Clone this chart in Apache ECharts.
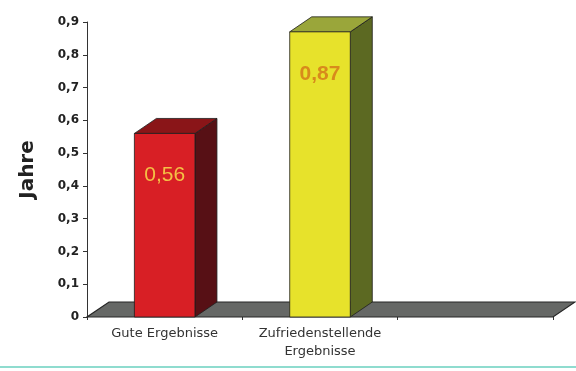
<!DOCTYPE html>
<html>
<head>
<meta charset="utf-8">
<script src="https://cdn.jsdelivr.net/npm/echarts@6/dist/echarts.min.js"></script>
<style>
  html, body { margin: 0; padding: 0; background: #fff; }
  #chart { width: 576px; height: 371px; }
  #rule { position: absolute; left: 0; top: 366px; width: 576px; height: 2px; background: #8fdccf; }
</style>
</head>
<body>
<div id="chart"></div>
<div id="rule"></div>
<script>
const categories = ['Gute Ergebnisse', 'Zufriedenstellende\nErgebnisse', '']
const values = [0.56, 0.87]
const valueLabels = ['0,56', '0,87']
const yMax = 0.9
const yStep = 0.1

// front / side / top colours and label colour per bar
const faces = [
  { front: '#d81f25', side: '#571015', top: '#8a1518', label: '#f4c045' },
  { front: '#e7e22b', side: '#5c6922', top: '#9aa63a', label: '#d88a1c' }
]
const depthX = 22
const depthY = -15

const chart = echarts.init(document.getElementById('chart'))

function renderFloor(params, api) {
  const cs = params.coordSys
  const y0 = api.coord([0, 0])[1]
  const x0 = cs.x
  const x1 = cs.x + cs.width
  return {
    type: 'polygon',
    shape: { points: [[x0, y0], [x1, y0], [x1 + depthX, y0 + depthY], [x0 + depthX, y0 + depthY]] },
    style: { fill: '#666866', stroke: '#262626', lineWidth: 1.2 }
  }
}

function renderBar(params, api) {
  const idx = params.dataIndex
  const top = api.coord([api.value(0), api.value(1)])
  const base = api.coord([api.value(0), 0])
  const band = api.size([1, 0])[0]
  const w = band * 0.39
  const xl = top[0] - w / 2
  const xr = top[0] + w / 2
  const yt = top[1]
  const yb = base[1]
  const c = faces[idx]
  const edge = { stroke: '#1e1e1e', lineWidth: 0.8 }
  return {
    type: 'group',
    children: [
      {
        type: 'polygon',
        shape: { points: [[xr, yb], [xr + depthX, yb + depthY], [xr + depthX, yt + depthY], [xr, yt]] },
        style: Object.assign({ fill: c.side }, edge)
      },
      {
        type: 'polygon',
        shape: { points: [[xl, yt], [xr, yt], [xr + depthX, yt + depthY], [xl + depthX, yt + depthY]] },
        style: Object.assign({ fill: c.top }, edge)
      },
      {
        type: 'rect',
        shape: { x: xl, y: yt, width: w, height: yb - yt },
        style: Object.assign({ fill: c.front }, edge)
      },
      {
        type: 'text',
        x: top[0],
        y: yt + 42,
        style: {
          text: valueLabels[idx],
          fill: c.label,
          font: (idx === 1 ? 'bold ' : '') + '21px "Liberation Sans", Arial, sans-serif',
          align: 'center',
          verticalAlign: 'middle'
        }
      }
    ]
  }
}

chart.setOption({
  animation: false,
  backgroundColor: '#fff',
  grid: { left: 87, right: 23, top: 22, bottom: 54 },
  xAxis: {
    type: 'category',
    data: categories,
    axisLine: { show: false },
    axisTick: { show: true, interval: 0, length: 3, lineStyle: { color: '#333' } },
    axisLabel: {
      interval: 0,
      margin: 8,
      color: '#333',
      fontSize: 13,
      fontFamily: 'DejaVu Sans',
      lineHeight: 18
    }
  },
  yAxis: {
    type: 'value',
    min: 0,
    max: yMax,
    interval: yStep,
    name: 'Jahre',
    nameLocation: 'middle',
    nameGap: 49,
    nameTextStyle: { fontFamily: 'DejaVu Sans', fontWeight: 'bold', fontSize: 20, color: '#222' },
    axisLine: { show: true, lineStyle: { color: '#333', width: 1 } },
    axisTick: { show: true, length: 4, lineStyle: { color: '#333' } },
    splitLine: { show: false },
    axisLabel: {
      margin: 8,
      color: '#222',
      fontFamily: 'DejaVu Sans',
      fontWeight: 'bold',
      fontSize: 12,
      formatter: v => (v === 0 ? '0' : v.toFixed(1).replace('.', ','))
    }
  },
  series: [
    {
      type: 'custom',
      renderItem: renderFloor,
      data: [[0, 0]],
      z: 1
    },
    {
      type: 'custom',
      renderItem: renderBar,
      data: values.map((v, i) => [i, v]),
      encode: { x: 0, y: 1 },
      z: 2
    }
  ]
})
</script>
</body>
</html>
